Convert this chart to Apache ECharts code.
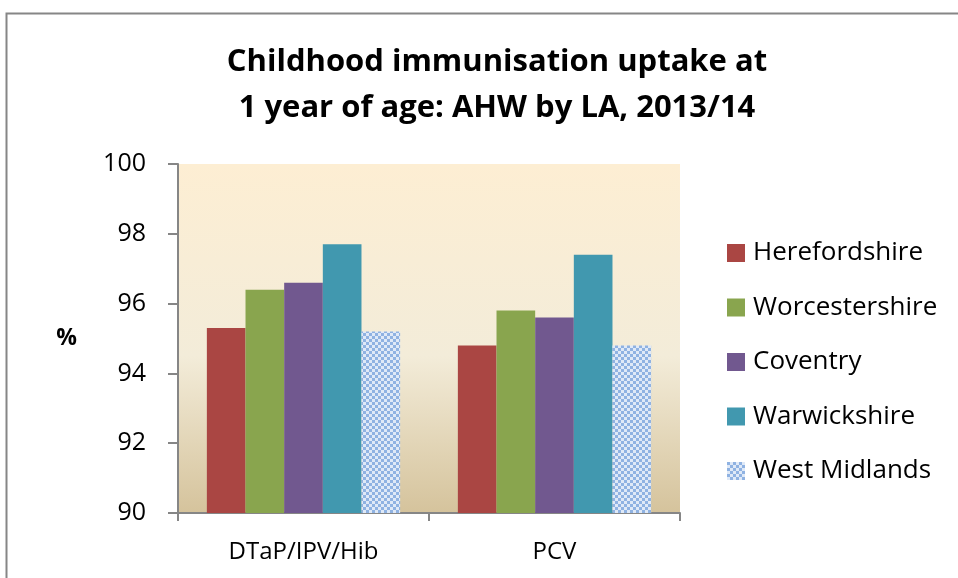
<!DOCTYPE html>
<html>
<head>
<meta charset="utf-8">
<script src="https://cdn.jsdelivr.net/npm/echarts@6/dist/echarts.min.js"></script>
<style>
  html, body { margin: 0; padding: 0; background: #fff; }
  #chart { width: 958px; height: 578px; }
</style>
</head>
<body>
<div id="chart"></div>
<script>
// categories and values
const categories = ['DTaP/IPV/Hib', 'PCV'];
const areas = ['Herefordshire', 'Worcestershire', 'Coventry', 'Warwickshire', 'West Midlands'];
const herefordshire = [95.3, 94.8];
const worcestershire = [96.4, 95.8];
const coventry = [96.6, 95.6];
const warwickshire = [97.7, 97.4];
const westMidlands = [95.2, 94.8];
const yTicks = [90, 92, 94, 96, 98, 100];

const values = [herefordshire, worcestershire, coventry, warwickshire, westMidlands];
const colours = ['#aa4643', '#89a54e', '#71588f', '#4198af', null];

// checked pattern for the West Midlands bar
const tile = document.createElement('canvas');
tile.width = 6; tile.height = 6;
const tctx = tile.getContext('2d');
tctx.fillStyle = '#dfe9f7';
tctx.fillRect(0, 0, 6, 6);
tctx.fillStyle = '#8fb2e2';
tctx.fillRect(0, 0, 3, 3);
tctx.fillRect(3, 3, 3, 3);
const wmFill = { image: tile, repeat: 'repeat' };

const chart = echarts.init(document.getElementById('chart'));

const series = areas.map((name, i) => ({
  name: name,
  type: 'bar',
  data: values[i],
  barGap: '0%',
  barCategoryGap: '23%',
  itemStyle: { color: colours[i] || wmFill },
  emphasis: { disabled: true }
}));

chart.setOption({
  animation: false,
  title: {
    text: 'Childhood immunisation uptake at\n1 year of age: AHW by LA, 2013/14',
    left: 492,
    textAlign: 'center',
    top: 34,
    textStyle: {
      fontFamily: 'Open Sans',
      fontWeight: 'bold',
      fontSize: 31,
      lineHeight: 46,
      color: '#000'
    }
  },
  legend: {
    orient: 'vertical',
    left: 722,
    top: 235,
    itemWidth: 18,
    itemHeight: 18,
    itemGap: 28.5,
    icon: 'rect',
    textStyle: { fontFamily: 'Open Sans', fontSize: 26, color: '#000', padding: [0, 0, 0, 3] },
    data: areas
  },
  grid: {
    left: 178,
    top: 164,
    width: 502,
    height: 349,
    show: true,
    borderWidth: 0,
    backgroundColor: new echarts.graphic.LinearGradient(0, 0, 0, 1, [
      { offset: 0, color: '#fdeed3' },
      { offset: 0.55, color: '#f3ecd9' },
      { offset: 1, color: '#d5c39c' }
    ])
  },
  xAxis: {
    type: 'category',
    data: categories,
    axisLine: { lineStyle: { color: '#868686', width: 2 } },
    axisTick: { show: true, length: 8, lineStyle: { color: '#868686', width: 2 } },
    axisLabel: { fontFamily: 'Open Sans', fontSize: 24, color: '#000', margin: 27 }
  },
  yAxis: {
    type: 'value',
    min: yTicks[0],
    max: yTicks[yTicks.length - 1],
    interval: 2,
    name: '%',
    nameLocation: 'middle',
    nameRotate: 0,
    nameGap: 101,
    nameTextStyle: { fontFamily: 'Open Sans', fontWeight: 'bold', fontSize: 23, color: '#000' },
    axisLine: { show: true, lineStyle: { color: '#868686', width: 2 } },
    axisTick: { show: true, length: 10, lineStyle: { color: '#868686', width: 2 } },
    axisLabel: { fontFamily: 'Open Sans', fontSize: 25, color: '#000', margin: 32 },
    splitLine: { show: false }
  },
  graphic: [{
    type: 'rect',
    shape: { x: 6.5, y: 13.5, width: 1000, height: 700 },
    style: { fill: null, stroke: '#868686', lineWidth: 2 },
    silent: true
  }],
  series: series
});
</script>
</body>
</html>
